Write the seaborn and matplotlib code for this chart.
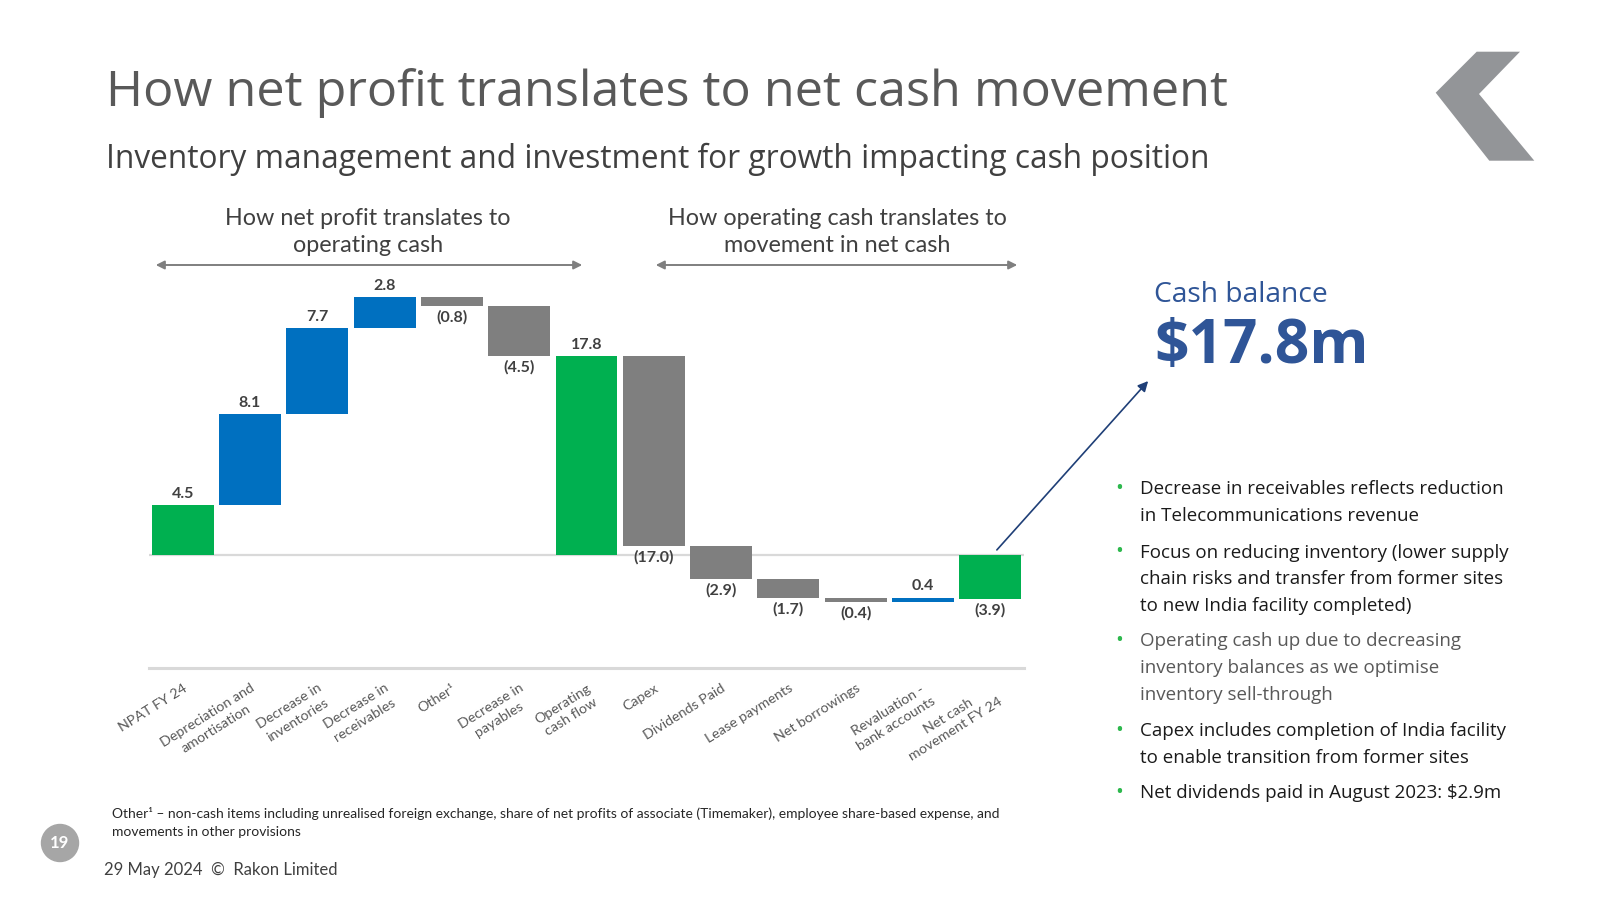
import matplotlib
matplotlib.use("Agg")
import matplotlib.pyplot as plt
from matplotlib.patches import Polygon, Ellipse, FancyArrowPatch
import numpy as np
import pandas as pd
import seaborn as sns

# ---------------- data ----------------
categories = ["NPAT FY 24", "Depreciation and\namortisation", "Decrease in\ninventories",
              "Decrease in\nreceivables", "Other¹", "Decrease in\npayables",
              "Operating\ncash flow", "Capex", "Dividends Paid", "Lease payments",
              "Net borrowings", "Revaluation -\nbank accounts", "Net cash\nmovement FY 24"]
values = [4.5, 8.1, 7.7, 2.8, -0.8, -4.5, 17.8, -17.0, -2.9, -1.7, -0.4, 0.4, -3.9]
kinds = ["total", "inc", "inc", "inc", "dec", "dec", "total",
         "dec", "dec", "dec", "dec", "inc", "total"]

title = "How net profit translates to net cash movement"
subtitle = "Inventory management and investment for growth impacting cash position"
header_left = "How net profit translates to\noperating cash"
header_right = "How operating cash translates to\nmovement in net cash"
cash_label = "Cash balance"
cash_value = "$17.8m"
bullets = [
    (["Decrease in receivables reflects reduction", "in Telecommunications revenue"], "#1a1a1a"),
    (["Focus on reducing inventory (lower supply", "chain risks and transfer from former sites",
      "to new India facility completed)"], "#1a1a1a"),
    (["Operating cash up due to decreasing", "inventory balances as we optimise",
      "inventory sell-through"], "#595959"),
    (["Capex includes completion of India facility", "to enable transition from former sites"], "#1a1a1a"),
    (["Net dividends paid in August 2023: $2.9m"], "#1a1a1a"),
]
footnote = ["Other¹ – non-cash items including unrealised foreign exchange, share of net profits of associate (Timemaker), employee share-based expense, and",
            "movements in other provisions"]
footer = "29 May 2024  ©  Rakon Limited"
page_no = "19"

kind_colors = {"total": "#00B050", "inc": "#0070C0", "dec": "#7F7F7F"}

# ---------------- waterfall geometry ----------------
bottoms, heights = [], []
running = 0.0
for v, k in zip(values, kinds):
    if k == "total":
        bottoms.append(0.0)
        heights.append(v)
        running = v
    else:
        bottoms.append(running)
        heights.append(v)
        running += v
bottoms = np.array(bottoms)
heights = np.array(heights)

df = pd.DataFrame({"category": categories, "height": heights})

sns.set_theme(style="white")
plt.rcParams["font.family"] = ["Open Sans", "DejaVu Sans"]

W, H = 1600, 900
fig = plt.figure(figsize=(16, 9), dpi=100)
fig.patch.set_facecolor("white")


def fx(x):
    return x / W


def fy(y):
    return 1 - y / H


LATO = ["Lato", "DejaVu Sans"]

# ---------------- chart ----------------
ax_top_px, ax_bot_px = 275.5, 668
ax = fig.add_axes([fx(149), fy(ax_bot_px), 875 / W, (ax_bot_px - ax_top_px) / H])
sns.barplot(data=df, x="category", y="height", order=categories, bottom=bottoms,
            width=0.92, color="#7F7F7F", errorbar=None, linewidth=0, ax=ax)
for p, k in zip(ax.patches, kinds):
    p.set_facecolor(kind_colors[k])
    p.set_edgecolor("none")

ax.set_xlim(-0.5, len(categories) - 0.5)
ax.set_ylim(-10.1, 25)
ax.axhline(0, color="#D9D9D9", lw=1.6, zorder=0)
for s in ["top", "right", "left"]:
    ax.spines[s].set_visible(False)
ax.spines["bottom"].set_color("#D9D9D9")
ax.spines["bottom"].set_linewidth(2.2)
ax.set_yticks([])
ax.set_xlabel("")
ax.set_ylabel("")
ax.set_xticks(range(len(categories)))
ax.set_xticklabels(categories, rotation=32, ha="right", va="top", rotation_mode="anchor",
                   fontsize=10.3, color="#595959", family=LATO,
                   multialignment="center", linespacing=1.35)
ax.tick_params(axis="x", length=0, pad=10)
ax.set_facecolor("none")

for i, (b, h, v) in enumerate(zip(bottoms, heights, values)):
    txt = f"{v:.1f}" if v >= 0 else f"({abs(v):.1f})"
    if v >= 0:
        ax.annotate(txt, (i, b + h), xytext=(0, 3), textcoords="offset points",
                    ha="center", va="bottom", fontsize=11.5, fontweight="bold",
                    color="#404040", family=LATO)
    else:
        ax.annotate(txt, (i, b + h), xytext=(0, -3), textcoords="offset points",
                    ha="center", va="top", fontsize=11.5, fontweight="bold",
                    color="#404040", family=LATO)

# ---------------- titles ----------------
fig.text(fx(106), fy(106), title, fontsize=36.3, color="#595959", va="baseline", ha="left")
fig.text(fx(106), fy(168), subtitle, fontsize=22.8, color="#404040", va="baseline", ha="left")

fig.text(fx(368), fy(232), header_left, fontsize=16.8, color="#404040", ha="center",
         va="center", linespacing=1.3, family=LATO)
fig.text(fx(837), fy(232), header_right, fontsize=16.8, color="#404040", ha="center",
         va="center", linespacing=1.3, family=LATO)

for x0, x1 in [(153, 585), (653, 1020)]:
    arr = FancyArrowPatch((fx(x0), fy(265)), (fx(x1), fy(265)), transform=fig.transFigure,
                          arrowstyle="<|-|>,head_length=5,head_width=2.5", color="#7F7F7F",
                          lw=1.4)
    fig.patches.append(arr)

# ---------------- cash balance ----------------
fig.text(fx(1154), fy(302), cash_label, fontsize=20.3, color="#2F5597", ha="left", va="baseline")
fig.text(fx(1154), fy(363), cash_value, fontsize=43.5, color="#2F5597", ha="left", va="baseline",
         fontweight="bold")
arr = FancyArrowPatch((fx(995), fy(552)), (fx(1150), fy(379)), transform=fig.transFigure,
                      arrowstyle="-|>,head_length=6,head_width=3", color="#1F3F77", lw=1.2)
fig.patches.append(arr)

# ---------------- bullets ----------------
line_h = 26.5
starts = [489.5, 553.0, 641.5, 731.5, 793.5]
for (lines, col), y0 in zip(bullets, starts):
    fig.text(fx(1119), fy(y0 - 1), "•", fontsize=15, color="#2DB84D", ha="center", va="center")
    for j, ln in enumerate(lines):
        fig.text(fx(1140), fy(y0 + j * line_h), ln, fontsize=13.5, color=col, ha="left", va="center")

# ---------------- footer ----------------
for j, ln in enumerate(footnote):
    fig.text(fx(112), fy(814 + j * 18), ln, fontsize=10, color="#262626", ha="left",
             va="center", family=LATO)
fig.text(fx(104), fy(870), footer, fontsize=12, color="#404040", ha="left", va="center",
         family=LATO)

circ = Ellipse((fx(60), fy(843)), 37 / W, 37 / H, transform=fig.transFigure, color="#A6A6A6")
fig.patches.append(circ)
fig.text(fx(60), fy(843), page_no, fontsize=12, color="white", fontweight="bold",
         ha="center", va="center", family=LATO)

# ---------------- logo ----------------
logo_pts = [(1476.7, 51.7), (1520, 51.7), (1479, 94), (1534.3, 160.7), (1489.3, 160.7), (1435.7, 92.7)]
logo = Polygon([(fx(x), fy(y)) for x, y in logo_pts], closed=True, transform=fig.transFigure,
               facecolor="#939598", edgecolor="none")
fig.patches.append(logo)

fig.savefig("out.png", dpi=100, facecolor="white")
